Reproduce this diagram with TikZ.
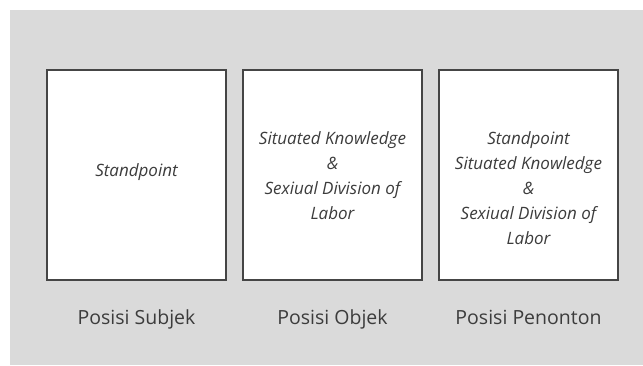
\documentclass[tikz,border=0pt]{standalone}
\usepackage{fontspec}
\setmainfont{Open Sans}
\usepackage{tikz}
\usepackage{xcolor}
\definecolor{bggray}{HTML}{DADADA}
\definecolor{framegray}{HTML}{454545}
\definecolor{txtgray}{HTML}{3C3C3C}

\begin{document}
\begin{tikzpicture}[x=1pt,y=1pt,
  kotak/.style={draw=framegray, line width=1.4pt, fill=white, minimum width=179pt, minimum height=210pt, inner sep=0pt},
  isi/.style={text=txtgray, align=center, font=\fontsize{17}{25}\selectfont\itshape},
  posisi/.style={text=txtgray, anchor=base, font=\fontsize{19.5}{22}\selectfont}]
\useasboundingbox (0,0) rectangle (643,365);
\fill[bggray] (10,0) rectangle (643,355);
\node[kotak] (subjek) at (136.5,190) {};
\node[kotak] (objek) at (332.5,190) {};
\node[kotak] (penonton) at (528.5,190) {};
\node[isi] (isisubjek) at (136.5,193) {Standpoint};
\node[isi] (isiobjek) at (332.5,189.5) {Situated Knowledge\\ \&\\ Sexiual Division of\\ Labor};
\node[isi] (isipenonton) at (528.5,177) {Standpoint\\ Situated Knowledge\\ \&\\ Sexiual Division of\\ Labor};
\node[posisi] (labelsubjek) at (136.5,41) {Posisi Subjek};
\node[posisi] (labelobjek) at (332.5,41) {Posisi Objek};
\node[posisi] (labelpenonton) at (528.5,41) {Posisi Penonton};
\end{tikzpicture}
\end{document}
